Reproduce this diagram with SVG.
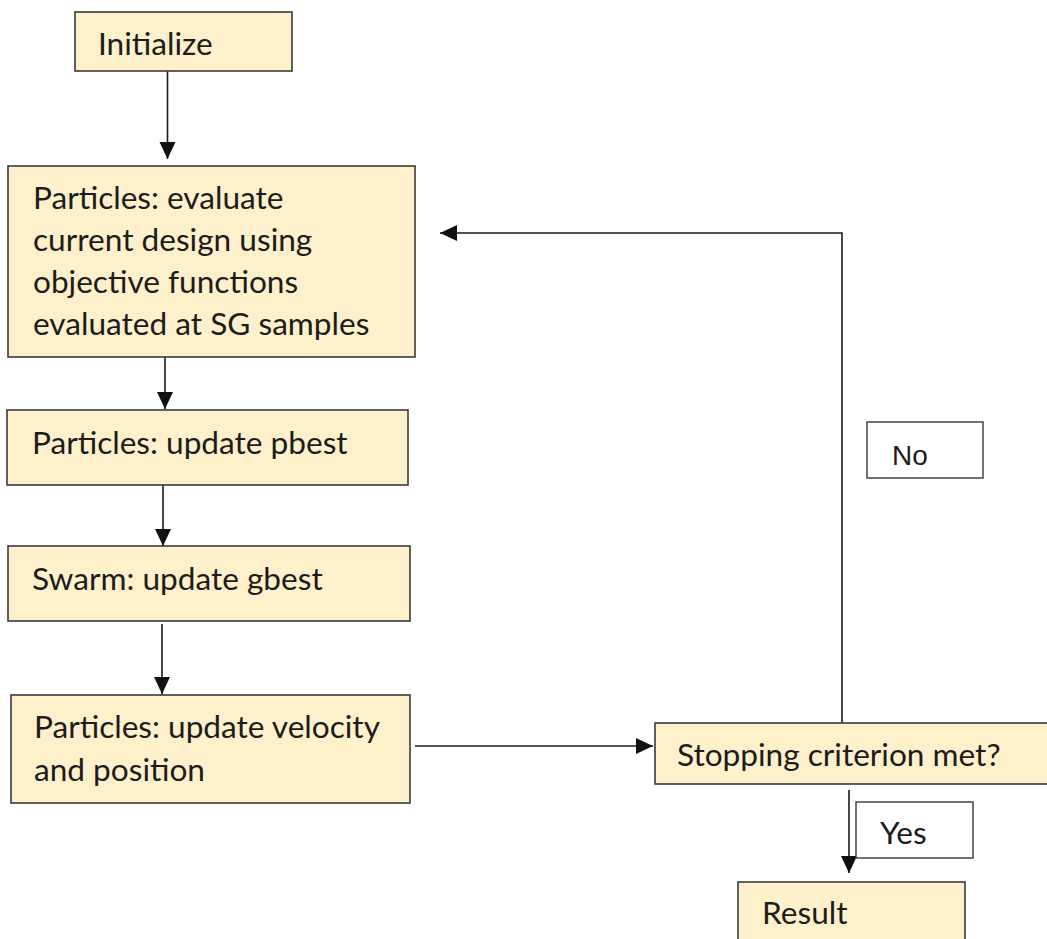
<svg xmlns="http://www.w3.org/2000/svg" width="1047" height="939" viewBox="0 0 1047 939">
<style>
.box{fill:#FEF0CA;stroke:#3a3a3a;stroke-width:1.6}
.lbl{fill:#fff;stroke:#3a3a3a;stroke-width:1.4}
.t{font-family:Lato,"Open Sans",sans-serif;font-size:31.6px;fill:#1c1c1c}
.a{font-family:"Liberation Sans",Arial,sans-serif;font-size:28px;fill:#1c1c1c}
.c{fill:none;stroke:#1a1a1a;stroke-width:1.6}
</style>
<defs>
<marker id="ah" markerUnits="userSpaceOnUse" markerWidth="18" markerHeight="18" viewBox="0 0 18 18" refX="17" refY="9" orient="auto">
<path d="M0,1 L17,9 L0,17 Z" fill="#111"/>
</marker>
</defs>
<rect width="1047" height="939" fill="#fff"/>
<g id="connectors">
<line class="c" x1="167.5" y1="71" x2="167.5" y2="159" marker-end="url(#ah)"/>
<line class="c" x1="165" y1="357" x2="165" y2="409" marker-end="url(#ah)"/>
<line class="c" x1="163" y1="485" x2="163" y2="546" marker-end="url(#ah)"/>
<line class="c" x1="162" y1="624" x2="162" y2="694" marker-end="url(#ah)"/>
<line class="c" x1="415" y1="746" x2="653" y2="746" marker-end="url(#ah)"/>
<polyline class="c" points="842,723 842,233 440,233" marker-end="url(#ah)"/>
<line class="c" x1="849" y1="790" x2="849" y2="873" marker-end="url(#ah)"/>
</g>
<g id="initialize">
<rect class="box" x="75" y="12" width="217" height="59"/>
<text class="t" x="98" y="55">Initialize</text>
</g>
<g id="evaluate">
<rect class="box" x="8" y="166" width="407" height="191"/>
<text class="t" x="33" y="209">Particles: evaluate</text>
<text class="t" x="33" y="251">current design using</text>
<text class="t" x="33" y="293">objective functions</text>
<text class="t" x="33" y="335">evaluated at SG samples</text>
</g>
<g id="pbest">
<rect class="box" x="7" y="410" width="401" height="75"/>
<text class="t" x="32" y="454">Particles: update pbest</text>
</g>
<g id="gbest">
<rect class="box" x="8" y="546" width="402" height="75"/>
<text class="t" x="32" y="590">Swarm: update gbest</text>
</g>
<g id="velocity">
<rect class="box" x="11" y="695" width="399" height="108"/>
<text class="t" x="34" y="738">Particles: update velocity</text>
<text class="t" x="34" y="781">and position</text>
</g>
<g id="stopping">
<rect class="box" x="655" y="723" width="395" height="61"/>
<text class="t" x="677" y="766">Stopping criterion met?</text>
</g>
<g id="no">
<rect class="lbl" x="867" y="422" width="116" height="56"/>
<text class="a" x="892" y="465">No</text>
</g>
<g id="yes">
<rect class="lbl" x="856" y="802" width="117" height="56"/>
<text class="t" x="880" y="844">Yes</text>
</g>
<g id="result">
<rect class="box" x="738" y="882" width="227" height="70"/>
<text class="t" x="762" y="924">Result</text>
</g>
</svg>
